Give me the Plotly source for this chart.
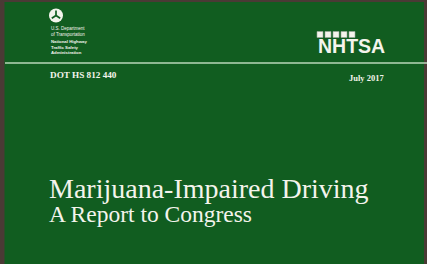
import plotly.graph_objects as go

W, H = 427, 264

# Text content of the cover
agency_lines = ["U.S. Department", "of Transportation"]
nhtsa_lines = ["National Highway", "Traffic Safety", "Administration"]
report_number = "DOT HS 812 440"
report_date = "July 2017"
title_lines = ["Marijuana-Impaired Driving", "A Report to Congress"]
title_sizes = [28, 23.5]
logo_word = "NHTSA"
logo_squares_x = [320, 328, 336, 344, 352]

GREEN = "#115d20"
BORDER = "#4a3a35"
WHITE = "#f4f4ec"

fig = go.Figure()

# small squares of the NHTSA logo
fig.add_trace(go.Scatter(
    x=logo_squares_x, y=[34.5] * len(logo_squares_x), mode="markers",
    marker=dict(symbol="square", size=6, color=WHITE,
                line=dict(color="#9aa89a", width=0.6)),
    hoverinfo="skip", showlegend=False))

shapes = [
    dict(type="rect", x0=4.5, x1=424, y0=2, y1=H, fillcolor=GREEN,
         line=dict(width=0), layer="below"),
    dict(type="line", x0=5, x1=W, y0=63, y1=63,
         line=dict(color="#b9d7b9", width=1.5)),
    # DOT logo
    dict(type="circle", x0=49, x1=63, y0=8.5, y1=22.5, fillcolor=WHITE,
         line=dict(width=0)),
    dict(type="line", x0=56, x1=56, y0=15.5, y1=10.5, line=dict(color=GREEN, width=1.7)),
    dict(type="line", x0=56, x1=51.8, y0=15.5, y1=18.3, line=dict(color=GREEN, width=1.7)),
    dict(type="line", x0=56, x1=60.2, y0=15.5, y1=18.3, line=dict(color=GREEN, width=1.7)),
]

ann = []
ann.append(dict(x=49, y=31.5, text="<br>".join(agency_lines),
                font=dict(family="Liberation Sans", size=4.5, color=WHITE)))
ann.append(dict(x=49, y=47, text="<br>".join("<b>" + t + "</b>" for t in nhtsa_lines),
                font=dict(family="Liberation Sans", size=4.3, color=WHITE)))
ann.append(dict(x=47.5, y=74.5, text="<b>" + report_number + "</b>",
                font=dict(family="Liberation Serif", size=9.2, color=WHITE)))
ann.append(dict(x=347, y=77.5, text="<b>" + report_date + "</b>",
                font=dict(family="Liberation Serif", size=8.5, color=WHITE)))
ann.append(dict(x=316, y=45.5, text="<b>" + logo_word + "</b>",
                font=dict(family="Liberation Sans", size=19.5, color=WHITE)))
title_text = "<br>".join(
    "<span style='font-size:%spx'>%s</span>" % (s, t) for t, s in zip(title_lines, title_sizes))
ann.append(dict(x=47, y=200, text=title_text,
                font=dict(family="Liberation Serif", size=18.5, color=WHITE)))
for a in ann:
    a.update(xref="x", yref="y", xanchor="left", yanchor="middle", showarrow=False,
             align="left")

fig.update_layout(
    width=W, height=H, autosize=False,
    margin=dict(l=0, r=0, t=0, b=0, pad=0),
    paper_bgcolor=BORDER, plot_bgcolor=BORDER,
    xaxis=dict(range=[0, W], visible=False, fixedrange=True),
    yaxis=dict(range=[H, 0], visible=False, fixedrange=True),
    shapes=shapes, annotations=ann, showlegend=False,
)

fig.write_html("out.html", config={"displayModeBar": False})

# remove the default page margin so the figure fills the window
with open("out.html", "r", encoding="utf-8") as f:
    html = f.read()
html = html.replace("<head>", "<head><style>html,body{margin:0;padding:0;overflow:hidden;}</style>", 1)
with open("out.html", "w", encoding="utf-8") as f:
    f.write(html)
